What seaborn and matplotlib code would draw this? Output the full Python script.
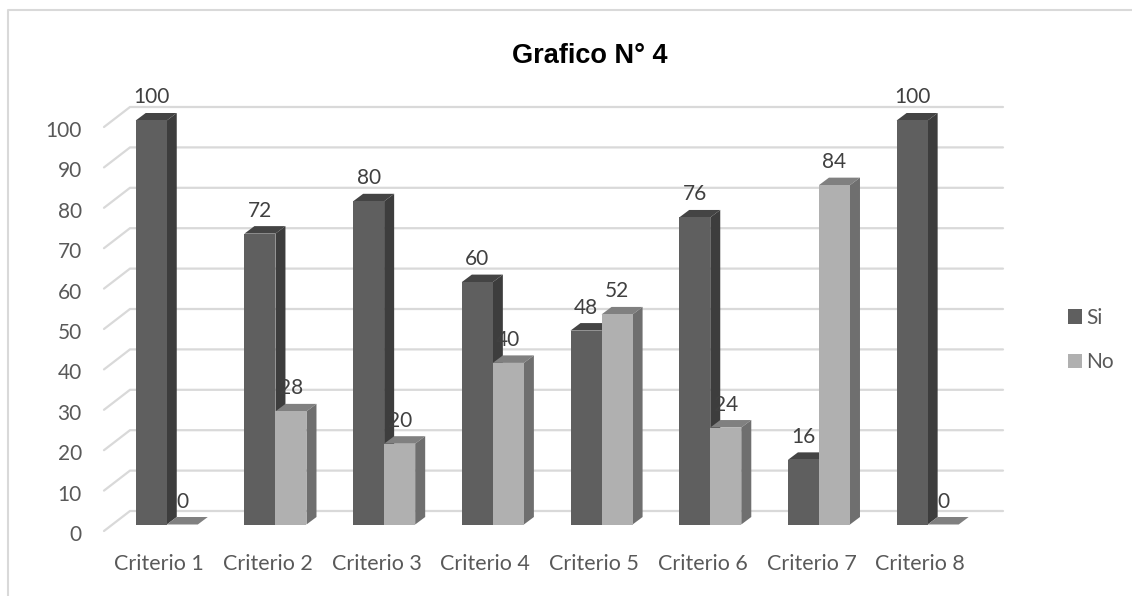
import matplotlib
matplotlib.use("Agg")
import matplotlib.pyplot as plt
from matplotlib.transforms import ScaledTranslation
import pandas as pd
import seaborn as sns
from matplotlib.lines import Line2D
from matplotlib.patches import Patch, Polygon

categories = [f"Criterio {i}" for i in range(1, 9)]
si_values = [100, 72, 80, 60, 48, 76, 16, 100]
no_values = [0, 28, 20, 40, 52, 24, 84, 0]
y_ticks = list(range(0, 101, 10))

W, H = 1132, 596
SCALE_Y = 4.04          # pixels per percentage point
GROUP_W = 108.7         # pixels per category
ZERO_Y = 524.5
LEFT = 112.4

shades = {
    "Si": {"front": "#5f5f5f", "side": "#3d3d3d", "top": "#444444"},
    "No": {"front": "#b0b0b0", "side": "#6f6f6f", "top": "#808080"},
}

sns.set_theme(style="white")
plt.rcParams["font.family"] = ["Lato", "DejaVu Sans"]

df = pd.DataFrame({
    "categoria": categories * 2,
    "serie": ["Si"] * len(categories) + ["No"] * len(categories),
    "valor": si_values + no_values,
})

fig = plt.figure(figsize=(W / 100, H / 100), dpi=100, facecolor="white")
ax = fig.add_axes([LEFT / W, 1 - ZERO_Y / H, GROUP_W * 8 / W, SCALE_Y * 100 / H])

sns.barplot(
    data=df, x="categoria", y="valor", hue="serie", hue_order=["Si", "No"],
    palette={k: v["front"] for k, v in shades.items()},
    width=0.571, gap=0, dodge=True, legend=False, ax=ax, zorder=3,
    saturation=1, linewidth=0, errorbar=None,
)
ax.set_xlim(-0.5, 7.5)
ax.set_ylim(0, 100)
ax.patch.set_alpha(0)
for spine in ax.spines.values():
    spine.set_visible(False)
ax.set_xlabel("")
ax.set_ylabel("")

# Depth of the extruded columns, in data units
dx = 10 / GROUP_W
dy = 7.5 / SCALE_Y

n = len(categories)
for i, bar in enumerate(ax.patches[:2 * n]):
    serie = "Si" if i < n else "No"
    x0, x1 = bar.get_x(), bar.get_x() + bar.get_width()
    h = bar.get_height()
    z = 2 if serie == "Si" else 3.5
    bar.set_zorder(z + 0.2 if serie == "No" else 3)
    ax.add_patch(Polygon([(x0, h), (x1, h), (x1 + dx, h + dy), (x0 + dx, h + dy)],
                         closed=True, fc=shades[serie]["top"], ec="none",
                         zorder=z, clip_on=False))
    ax.add_patch(Polygon([(x1, 0), (x1, h), (x1 + dx, h + dy), (x1 + dx, dy)],
                         closed=True, fc=shades[serie]["side"], ec="none",
                         zorder=z, clip_on=False))
    ax.annotate(f"{h:.0f}", (bar.get_x() + bar.get_width() / 2, h),
                xytext=(0, 23 * 0.72), textcoords="offset points",
                ha="center", va="center", fontsize=15, color="#404040",
                zorder=6, annotation_clip=False)

# Back wall and side wall gridlines
wall_x0 = -0.5 + (104 - LEFT) / GROUP_W
wall_x1 = -0.5 + (130 - LEFT) / GROUP_W
wall_x2 = -0.5 + (1003 - LEFT) / GROUP_W
front = -6.5 / SCALE_Y
back = 13.5 / SCALE_Y
for v in y_ticks:
    ax.plot([wall_x0, wall_x1, wall_x2], [v + front, v + back, v + back],
            color="#d9d9d9", lw=1.6, zorder=1, clip_on=False,
            solid_joinstyle="miter")

ax.set_yticks(y_ticks)
ax.set_yticklabels(y_ticks)
ax.tick_params(axis="y", length=0, pad=22, labelsize=15, labelcolor="#595959")
for lab in ax.get_yticklabels():
    lab.set_verticalalignment("center")
    lab.set_transform(lab.get_transform() + ScaledTranslation(0, -10.5 / 100, fig.dpi_scale_trans))
ax.set_xticks(range(n))
ax.set_xticklabels(categories)
ax.tick_params(axis="x", length=0, pad=21, labelsize=15.5, labelcolor="#595959")
for lab in ax.get_xticklabels():
    lab.set_transform(lab.get_transform() + ScaledTranslation(-7.5 / 100, 0, fig.dpi_scale_trans))

fig.text(590 / W, 1 - 56 / H, "Grafico N° 4", ha="center", va="center",
         fontsize=19.5, fontweight="bold", color="black", family="Liberation Sans")

handles = [Patch(fc=shades[s]["front"], ec="none", label=s) for s in ("Si", "No")]
fig.legend(handles=handles, loc="center left", bbox_to_anchor=(1068 / W, 1 - 340 / H),
           frameon=False, fontsize=15, labelcolor="#595959", handlelength=0.67,
           handleheight=0.67, handletextpad=0.2, labelspacing=1.17, borderpad=0,
           borderaxespad=0)

# Chart-area outline along the top and left
fig.add_artist(Line2D([8 / W, 8 / W, 1], [0, 1 - 10 / H, 1 - 10 / H],
                      color="#d9d9d9", lw=1.5))

fig.savefig("out.png", dpi=100)
